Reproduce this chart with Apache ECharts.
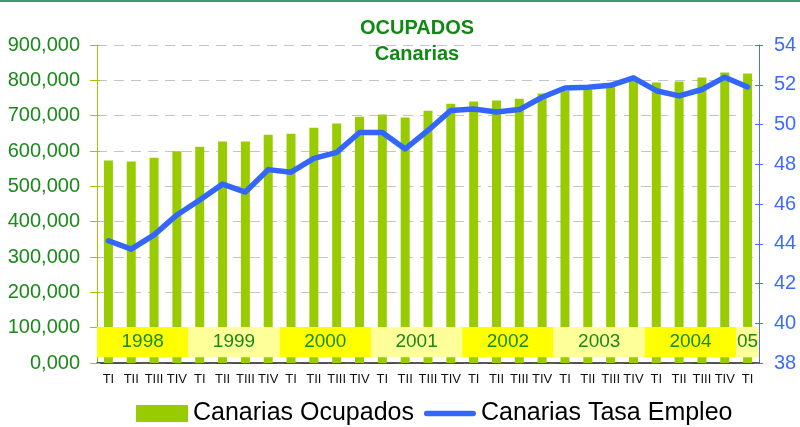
<!DOCTYPE html>
<html>
<head>
<meta charset="utf-8">
<script src="https://cdn.jsdelivr.net/npm/echarts@6/dist/echarts.min.js"></script>
<style>
  html, body { margin: 0; padding: 0; background: #fff; }
  #chart { width: 800px; height: 427px; }
</style>
</head>
<body>
<div id="chart"></div>
<script>
// quarters 1998 TI .. 2005 TI
const quarters = [
  "TI", "TII", "TIII", "TIV", "TI", "TII", "TIII", "TIV",
  "TI", "TII", "TIII", "TIV", "TI", "TII", "TIII", "TIV",
  "TI", "TII", "TIII", "TIV", "TI", "TII", "TIII", "TIV",
  "TI", "TII", "TIII", "TIV", "TI"
];
const ocupados = [
  573000, 570000, 581000, 599000, 612000, 627000, 627000, 646000,
  649000, 666000, 678000, 697000, 703000, 695000, 714000, 734000,
  740000, 743000, 748000, 763000, 770000, 773000, 781000, 798000,
  794000, 797000, 808000, 822000, 819000
];
const tasaEmpleo = [
  44.15, 43.73, 44.45, 45.45, 46.2, 47.0, 46.6, 47.73,
  47.6, 48.3, 48.6, 49.6, 49.6, 48.77, 49.7, 50.71,
  50.78, 50.63, 50.75, 51.37, 51.84, 51.87, 51.97, 52.35,
  51.7, 51.44, 51.76, 52.38, 51.89
];
const yearLabels = ["1998", "1999", "2000", "2001", "2002", "2003", "2004", "05"];
const yearStart = [0, 4, 8, 12, 16, 20, 24, 28];
const yearEnd = [3, 7, 11, 15, 19, 23, 27, 28];
const leftTickLabels = ["0,000", "100,000", "200,000", "300,000", "400,000",
  "500,000", "600,000", "700,000", "800,000", "900,000"];

const font = "'Liberation Sans', Arial, sans-serif";
const chart = echarts.init(document.getElementById("chart"));

chart.setOption({
  animation: false,
  textStyle: { fontFamily: font },
  graphic: [
    { type: "rect", shape: { x: 0, y: 0, width: 800, height: 2 }, style: { fill: "#3c9a6e" } }
  ],
  title: {
    text: "OCUPADOS\nCanarias",
    left: 412,
    top: 10,
    textAlign: "center",
    textStyle: { fontFamily: font, fontSize: 20, fontWeight: "bold", color: "#118811", lineHeight: 26 }
  },
  legend: {
    left: 131,
    top: 396,
    itemWidth: 52,
    itemHeight: 17,
    itemGap: 10,
    data: [
      { name: "Canarias Ocupados", icon: "rect" },
      { name: "Canarias Tasa Empleo",
        icon: "path://M3,0 L53,0 A3,3 0 0 1 53,6 L3,6 A3,3 0 0 1 3,0 Z" }
    ],
    textStyle: { fontFamily: font, fontSize: 25, color: "#000" }
  },
  grid: { left: 97, right: 41, top: 45, bottom: 64 },
  xAxis: [
    {
      type: "category",
      data: quarters,
      axisLine: { lineStyle: { color: "#222", width: 1.5 } },
      axisTick: { length: 4, lineStyle: { color: "#222" } },
      axisLabel: { interval: 0, margin: 10, fontSize: 13, color: "#111", fontFamily: font }
    },
    {
      type: "category",
      data: quarters,
      position: "bottom",
      axisLine: { show: false },
      axisTick: { inside: true, length: 4, lineStyle: { color: "#222" } },
      axisLabel: { show: false }
    }
  ],
  yAxis: [
    {
      type: "value",
      min: 0, max: 900000, interval: 100000,
      axisLine: { show: true, lineStyle: { color: "#99cc00" } },
      axisTick: { show: true, length: 7, lineStyle: { color: "#99cc00" } },
      axisLabel: {
        margin: 17, fontSize: 20, color: "#1a8a1a", fontFamily: font,
        formatter: (v) => leftTickLabels[Math.round(v / 100000)]
      },
      splitLine: { lineStyle: { color: "#c4c4c4", type: [10, 7] } }
    },
    {
      type: "value",
      position: "right",
      min: 38, max: 54, interval: 2,
      axisLine: { show: true, lineStyle: { color: "#4a6cff" } },
      axisTick: { show: true, length: 4, lineStyle: { color: "#4a6cff" } },
      axisLabel: { margin: 15, fontSize: 20, color: "#3d6bff", fontFamily: font },
      splitLine: { show: false }
    },
    {
      type: "value",
      position: "left",
      min: 0, max: 900000, interval: 100000,
      axisLine: { show: false },
      axisTick: { show: true, inside: true, length: 3, lineStyle: { color: "#99cc00" } },
      axisLabel: { show: false },
      splitLine: { show: false }
    },
    {
      type: "value",
      position: "right",
      min: 38, max: 54, interval: 2,
      axisLine: { show: false },
      axisTick: { show: true, inside: true, length: 4, lineStyle: { color: "#4a6cff" } },
      axisLabel: { show: false },
      splitLine: { show: false }
    }
  ],
  series: [
    {
      name: "Canarias Ocupados",
      type: "bar",
      data: ocupados,
      barWidth: 9,
      itemStyle: { color: "#99cc00" }
    },
    {
      name: "Canarias Tasa Empleo",
      type: "line",
      yAxisIndex: 1,
      data: tasaEmpleo,
      symbol: "none",
      z: 6,
      lineStyle: { color: "#3366ff", width: 5.5, cap: "round", join: "round" },
      itemStyle: { color: "#3366ff" }
    },
    {
      // year boxes over the bars
      type: "custom",
      z: 5,
      clip: false,
      data: yearStart.map((s, i) => [s, yearEnd[i]]),
      encode: { x: 0 },
      renderItem: (params, api) => {
        const bw = api.size([1, 0])[0];
        const p0 = api.coord([api.value(0), 102000]);
        const p1 = api.coord([api.value(1), 16000]);
        const x = p0[0] - bw / 2;
        const w = p1[0] + bw / 2 - x;
        const y = p0[1];
        const h = p1[1] - p0[1];
        const i = params.dataIndex;
        return {
          type: "group",
          children: [
            { type: "rect", shape: { x: x, y: y, width: w, height: h },
              style: { fill: i % 2 === 0 ? "#ffff00" : "#ffff99" } },
            { type: "text",
              style: { text: yearLabels[i], x: x + w / 2, y: y + h / 2, align: "center",
                verticalAlign: "middle", fill: "#1a8a1a", font: "19px " + font } }
          ]
        };
      }
    }
  ]
});
</script>
</body>
</html>
